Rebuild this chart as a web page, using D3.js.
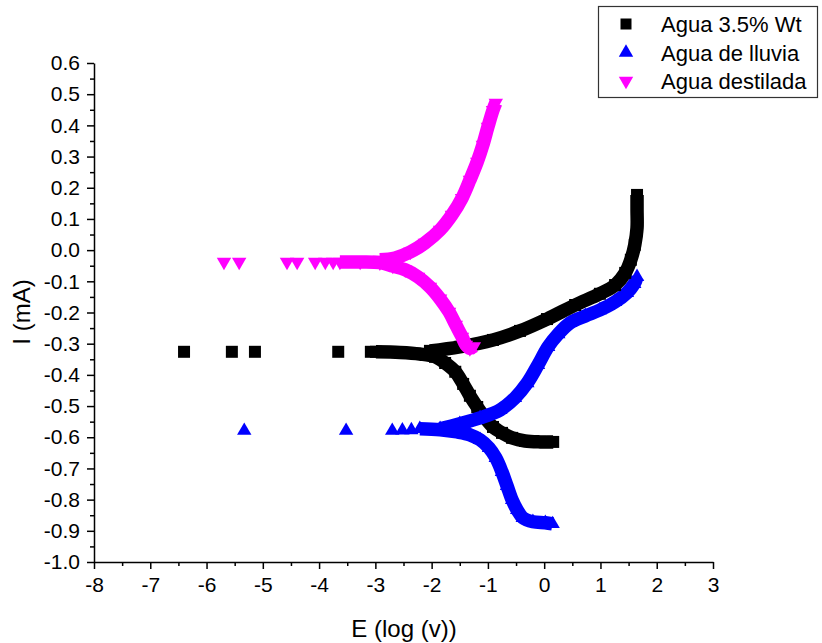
<!DOCTYPE html>
<html>
<head>
<meta charset="utf-8">
<script src="https://cdn.jsdelivr.net/npm/d3@7"></script>
<style>
  body { margin: 0; background: #fff; }
  svg { font-family: "Liberation Sans", Arial, sans-serif; }
</style>
</head>
<body>
<div id="chart"></div>
<script>
// axis ticks
const xTicks = [-8, -7, -6, -5, -4, -3, -2, -1, 0, 1, 2, 3];
const yTicks = [-1.0, -0.9, -0.8, -0.7, -0.6, -0.5, -0.4, -0.3, -0.2, -0.1, 0.0, 0.1, 0.2, 0.3, 0.4, 0.5, 0.6];

// Agua 3.5% Wt (black squares)
const salSparse = [[-6.40, -0.326], [-5.55, -0.326], [-5.14, -0.326], [-3.66, -0.326], [-3.08, -0.326]];
const salCat = [[-2.99, -0.326], [-2.56, -0.328], [-2.21, -0.333], [-1.94, -0.342], [-1.76, -0.362],
  [-1.58, -0.390], [-1.44, -0.429], [-1.32, -0.467], [-1.19, -0.503], [-1.05, -0.538], [-0.91, -0.567],
  [-0.75, -0.586], [-0.57, -0.602], [-0.34, -0.612], [-0.07, -0.615], [0.16, -0.615]];
const salAn = [[-2.03, -0.323], [-1.50, -0.310], [-0.91, -0.288], [-0.43, -0.259], [0.05, -0.221],
  [0.55, -0.176], [0.99, -0.140], [1.26, -0.112], [1.44, -0.073], [1.54, -0.031], [1.61, 0.017],
  [1.65, 0.071], [1.65, 0.129], [1.65, 0.177]];

// Agua de lluvia (blue triangles)
const lluviaSparse = [[-5.33, -0.579], [-3.52, -0.579], [-2.70, -0.579], [-2.52, -0.578], [-2.36, -0.577]];
const lluviaCat = [[-2.21, -0.573], [-1.85, -0.576], [-1.55, -0.583], [-1.32, -0.592], [-1.14, -0.608],
  [-0.98, -0.634], [-0.86, -0.666], [-0.75, -0.711], [-0.66, -0.756], [-0.57, -0.801], [-0.48, -0.833],
  [-0.38, -0.858], [-0.20, -0.871], [0.02, -0.874], [0.15, -0.878]];
const lluviaAn = [[-1.85, -0.573], [-1.50, -0.557], [-1.14, -0.538], [-0.78, -0.512], [-0.52, -0.474],
  [-0.30, -0.426], [-0.11, -0.368], [0.07, -0.310], [0.25, -0.269], [0.46, -0.233], [0.73, -0.211],
  [0.99, -0.192], [1.26, -0.166], [1.47, -0.137], [1.60, -0.108], [1.65, -0.086]];

// Agua destilada (magenta down triangles)
const destSparse = [[-5.69, -0.038], [-5.42, -0.038], [-4.57, -0.038], [-4.39, -0.038], [-4.07, -0.038],
  [-3.89, -0.038], [-3.75, -0.038]];
const destCat = [[-3.63, -0.038], [-3.27, -0.038], [-2.92, -0.040], [-2.69, -0.051], [-2.47, -0.063],
  [-2.24, -0.086], [-2.03, -0.118], [-1.85, -0.156], [-1.69, -0.198], [-1.57, -0.240], [-1.46, -0.278],
  [-1.39, -0.304], [-1.32, -0.315], [-1.25, -0.309]];
const destAn = [[-2.92, -0.031], [-2.65, -0.025], [-2.38, -0.006], [-2.12, 0.023], [-1.85, 0.065],
  [-1.64, 0.113], [-1.46, 0.167], [-1.32, 0.225], [-1.19, 0.283], [-1.09, 0.337], [-1.00, 0.395],
  [-0.91, 0.449], [-0.86, 0.472]];

const seriesNames = ["Agua 3.5% Wt", "Agua de lluvia", "Agua destilada"];
const seriesColors = ["#000000", "#0000ff", "#ff00ff"];

const width = 822, height = 643;
const x = d3.scaleLinear().domain([-8, 3]).range([94, 713]);
const y = d3.scaleLinear().domain([-1.0, 0.6]).range([562, 63]);

const svg = d3.select("#chart").append("svg")
  .attr("width", width)
  .attr("height", height);

// minor ticks
svg.append("g")
  .attr("transform", `translate(0,${y(-1.0)})`)
  .call(d3.axisBottom(x).tickValues(d3.range(-7.5, 3, 1)).tickSize(4).tickFormat(""))
  .call(g => g.select(".domain").remove());
svg.append("g")
  .attr("transform", `translate(${x(-8)},0)`)
  .call(d3.axisLeft(y).tickValues(d3.range(-0.95, 0.6, 0.1)).tickSize(4).tickFormat(""))
  .call(g => g.select(".domain").remove());

// major axes (plain hyphen for minus, as in the original)
const xAxis = svg.append("g")
  .attr("transform", `translate(0,${y(-1.0)})`)
  .call(d3.axisBottom(x).tickValues(xTicks).tickSize(7).tickSizeOuter(0).tickPadding(6)
    .tickFormat(d => String(d)));
const yAxis = svg.append("g")
  .attr("transform", `translate(${x(-8)},0)`)
  .call(d3.axisLeft(y).tickValues(yTicks).tickSize(7).tickSizeOuter(0).tickPadding(7)
    .tickFormat(d => d.toFixed(1)));

svg.selectAll(".tick text").attr("font-size", 21).attr("fill", "#000")
  .attr("font-family", "'Liberation Sans', Arial, sans-serif");
svg.selectAll(".domain, .tick line").attr("stroke", "#000").attr("stroke-width", 1.5);
xAxis.selectAll(".tick text").attr("dy", "0.8em");

// axis titles
svg.append("text")
  .attr("x", 404).attr("y", 637)
  .attr("text-anchor", "middle")
  .attr("font-size", 24)
  .text("E (log (v))");
svg.append("text")
  .attr("transform", "translate(30,312) rotate(-90)")
  .attr("text-anchor", "middle")
  .attr("font-size", 24)
  .text("I (mA)");

const line = d3.line().x(d => x(d[0])).y(d => y(d[1])).curve(d3.curveCatmullRom);

const square = d3.symbol().type(d3.symbolSquare).size(144);
const tri = d3.symbol().type(d3.symbolTriangle).size(90);

function band(data, color) {
  svg.append("path")
    .datum(data)
    .attr("fill", "none")
    .attr("stroke", color)
    .attr("stroke-width", 13.5)
    .attr("stroke-linejoin", "round")
    .attr("d", line);
}

function marks(data, color, sym, rot) {
  svg.append("g").selectAll("path")
    .data(data)
    .join("path")
    .attr("transform", d => `translate(${x(d[0])},${y(d[1])}) rotate(${rot})`)
    .attr("fill", color)
    .attr("d", sym);
}

// black cathodic
band(salCat, seriesColors[0]);
marks(salSparse.concat(salCat), seriesColors[0], square, 0);
// blue
band(lluviaCat, seriesColors[1]);
band(lluviaAn, seriesColors[1]);
marks(lluviaSparse.concat(lluviaCat, lluviaAn), seriesColors[1], tri, 0);
// black anodic
band(salAn, seriesColors[0]);
marks(salAn, seriesColors[0], square, 0);
// magenta
band(destCat, seriesColors[2]);
band(destAn, seriesColors[2]);
marks(destSparse.concat(destCat, destAn), seriesColors[2], tri, 180);

// legend
const legend = svg.append("g");
legend.append("rect")
  .attr("x", 598.5).attr("y", 6.5)
  .attr("width", 219).attr("height", 91)
  .attr("fill", "#fff")
  .attr("stroke", "#333").attr("stroke-width", 1.2);
const syms = [d3.symbol().type(d3.symbolSquare).size(121), tri, tri];
const rots = [0, 0, 180];
seriesNames.forEach((name, i) => {
  const cy = 24 + i * 28.5;
  legend.append("path")
    .attr("transform", `translate(626,${cy}) rotate(${rots[i]})`)
    .attr("fill", seriesColors[i])
    .attr("d", syms[i]);
  legend.append("text")
    .attr("x", 661).attr("y", cy + 8)
    .attr("font-size", 22)
    .text(name);
});
</script>
</body>
</html>
